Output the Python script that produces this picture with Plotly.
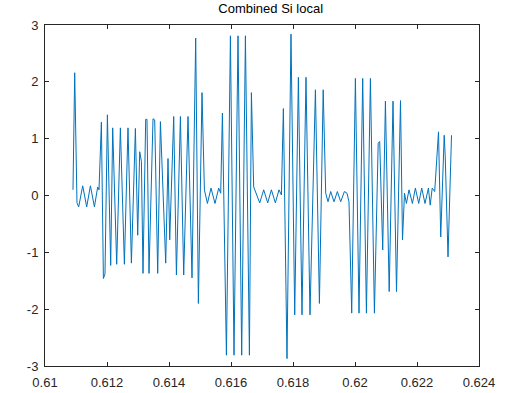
import plotly.graph_objects as go

# time samples (s) and signal values
t = [0.610903, 0.610958, 0.611032, 0.611087, 0.611216, 0.611345, 0.611465, 0.611594,
     0.611700, 0.611742, 0.611819, 0.611884, 0.611935, 0.612013, 0.612119, 0.612184,
     0.612313, 0.612432, 0.612561, 0.612677, 0.612787, 0.612916, 0.612990, 0.613055,
     0.613110, 0.613161, 0.613248, 0.613290, 0.613355, 0.613484, 0.613539, 0.613635,
     0.613723, 0.613894, 0.613968, 0.614023, 0.614152, 0.614239, 0.614368, 0.614474,
     0.614613, 0.614742, 0.614861, 0.614948, 0.615065, 0.615142, 0.615239, 0.615355,
     0.615484, 0.615603, 0.615668, 0.615723, 0.615852, 0.615981, 0.616097, 0.616226,
     0.616345, 0.616465, 0.616594, 0.616658, 0.616732, 0.616926, 0.617055, 0.617184,
     0.617303, 0.617432, 0.617548, 0.617626, 0.617690, 0.617806, 0.617935, 0.618055,
     0.618174, 0.618290, 0.618419, 0.618548, 0.618723, 0.618852, 0.618974, 0.619055,
     0.619129, 0.619216, 0.619323, 0.619432, 0.619539, 0.619658, 0.619742, 0.619806,
     0.619894, 0.620013, 0.620129, 0.620248, 0.620368, 0.620497, 0.620626, 0.620748,
     0.620797, 0.620894, 0.620981, 0.621103, 0.621226, 0.621339, 0.621468, 0.621532,
     0.621597, 0.621658, 0.621742, 0.621852, 0.621948, 0.622055, 0.622152, 0.622258,
     0.622368, 0.622426, 0.622490, 0.622571, 0.622694, 0.622765, 0.622877, 0.622910,
     0.623000, 0.623113]

si_local = [0.10, 2.16, -0.13, -0.20, 0.17, -0.20, 0.17, -0.20,
            0.15, 0.10, 1.29, -1.46, -1.38, 1.42, -1.23, 1.19,
            -1.21, 1.19, -1.21, 1.19, -1.19, 1.18, -0.70, 0.77,
            0.60, -1.37, 1.34, 1.34, -1.37, 1.35, 1.33, -1.37,
            1.30, -1.19, 0.65, -0.78, 1.39, -1.40, 1.39, -1.40,
            1.39, -1.45, 2.77, -1.90, 1.81, 0.10, -0.14, 0.13,
            -0.14, 0.13, 0.04, 1.45, -2.81, 2.81, -2.81, 2.81,
            -2.81, 2.81, -2.81, 1.81, 0.15, -0.13, 0.10, -0.13,
            0.10, -0.13, 0.10, 0.01, 1.53, -2.87, 2.84, -2.10,
            2.08, -2.10, 2.08, -2.10, 1.86, -1.90, 1.86, 0.04,
            -0.11, 0.07, -0.11, 0.07, -0.11, 0.07, 0.04, -0.11,
            -2.07, 2.06, -2.07, 2.06, -2.07, 2.06, -2.07, 0.92,
            0.95, -0.96, 1.66, -1.69, 1.66, -1.69, 1.67, -0.78,
            0.04, -0.14, 0.10, -0.14, 0.13, -0.14, 0.13, -0.14,
            0.13, -0.17, 0.13, 0.07, 1.12, -0.73, 1.06, 0.70,
            -1.08, 1.06]

x_ticks = [0.61, 0.612, 0.614, 0.616, 0.618, 0.62, 0.622, 0.624]
x_tick_labels = ["0.61", "0.612", "0.614", "0.616", "0.618", "0.62", "0.622", "0.624"]
y_ticks = [-3, -2, -1, 0, 1, 2, 3]
y_tick_labels = ["-3", "-2", "-1", "0", "1", "2", "3"]

fig = go.Figure()
fig.add_trace(go.Scatter(x=t, y=si_local, mode="lines",
                         line=dict(color="#0072BD", width=1), showlegend=False))

axis_common = dict(showgrid=False, zeroline=False, showline=True, linecolor="#262626",
                   linewidth=1, mirror="ticks", ticks="inside", ticklen=4,
                   tickcolor="#262626", automargin=False,
                   tickfont=dict(family="Liberation Sans, Arial", size=13, color="#262626"))

fig.update_layout(
    width=505, height=393,
    margin=dict(l=45, r=26, t=25, b=27),
    paper_bgcolor="white", plot_bgcolor="white",
    title=dict(text="Combined Si local", x=0.52, xref="paper", y=1, yref="container",
               yanchor="top", pad=dict(t=4),
               font=dict(family="Liberation Sans, Arial", size=13, color="#000000")),
    xaxis=dict(range=[0.61, 0.624], tickvals=x_ticks, ticktext=x_tick_labels,
               ticklabelstandoff=4, **axis_common),
    yaxis=dict(range=[-3, 3], tickvals=y_ticks, ticktext=y_tick_labels,
               ticklabelstandoff=3, **axis_common),
)

fig.write_html("out.html")
